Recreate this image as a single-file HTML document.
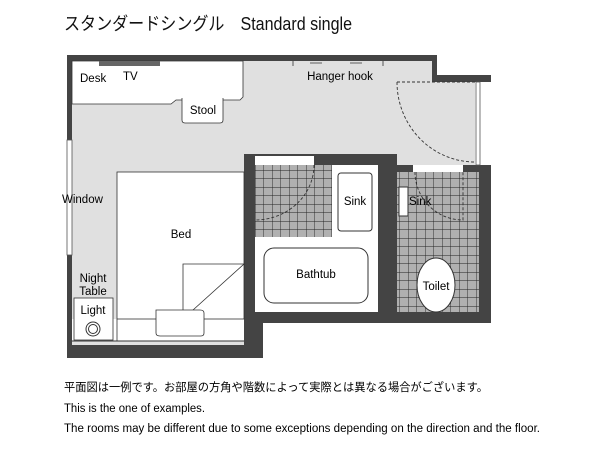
<!DOCTYPE html>
<html><head><meta charset="utf-8"><style>body{margin:0;background:#fff}svg{display:block}</style></head><body>
<svg width="600" height="450" viewBox="0 0 600 450" xmlns="http://www.w3.org/2000/svg" font-family="Liberation Sans, Noto Sans CJK JP, sans-serif">
<rect width="600" height="450" fill="#fff"/>
<text x="64" y="30" font-size="18" textLength="288" lengthAdjust="spacingAndGlyphs" fill="#111">スタンダードシングル　Standard single</text>
<polygon points="72,61 432,61 432,82 475,82 475,165 244,165 244,345 72,345" fill="#e0e0e0"/>
<path d="M67,55 H437 V75 H491 V82 H432 V61 H72 V345 H244 V154 H397 V165 H491 V323 H263 V358 H67 Z" fill="#444"/>
<rect x="476" y="82" width="4" height="83" fill="#fff" stroke="#555" stroke-width="0.8"/>
<rect x="67" y="140" width="5" height="115" fill="#fff" stroke="#555" stroke-width="0.8"/>
<rect x="255" y="165" width="123" height="147" fill="#fff"/>
<rect x="378" y="154" width="19" height="169" fill="#444"/>
<rect x="255" y="156" width="59" height="9" fill="#fff"/>
<rect x="413" y="165" width="50" height="7" fill="#fff"/>
<defs><pattern id="t" width="8.5" height="8.5" patternUnits="userSpaceOnUse"><rect width="8.5" height="8.5" fill="#b0b0b0"/><path d="M0,0 H8.5 M0,0 V8.5" stroke="#222" stroke-width="0.9"/></pattern></defs>
<rect x="255" y="165" width="77" height="72" fill="url(#t)"/>
<rect x="338" y="173" width="34" height="58" rx="3" fill="#fff" stroke="#333"/>
<text x="355" y="205" font-size="11.5" text-anchor="middle">Sink</text>
<rect x="264" y="248" width="104" height="55" rx="10" fill="#fff" stroke="#333"/>
<text x="316" y="278" font-size="11.5" text-anchor="middle">Bathtub</text>
<rect x="397" y="172" width="82" height="140" fill="url(#t)"/>
<rect x="399" y="187" width="9" height="29" fill="#fff" stroke="#333"/>
<ellipse cx="436" cy="285" rx="19" ry="27" fill="#fff" stroke="#333"/>
<text x="436" y="290" font-size="11.5" text-anchor="middle">Toilet</text>
<text x="409" y="205" font-size="11.5">Sink</text>
<g fill="none" stroke="#333" stroke-width="0.9" stroke-dasharray="3,2">
<path d="M397,82 H475 M397,82 A78,80 0 0 0 475,162"/>
<path d="M314,165 A59,55 0 0 1 255,220"/>
<path d="M415,172 A48,48 0 0 0 463,220 V172"/>
</g>
<path d="M72,61 H243 V97 L240,100 H176 L171,104 H72 Z" fill="#fff" stroke="#333" stroke-width="0.8"/>
<rect x="99" y="61" width="61" height="5" fill="#666"/>
<text x="80" y="82" font-size="11.5">Desk</text>
<text x="123" y="80" font-size="11.5">TV</text>
<path d="M182,98 V120 Q182,123 185,123 H220 Q223,123 223,120 V98" fill="#fff" stroke="#333" stroke-width="0.8"/>
<text x="203" y="114" font-size="11.5" text-anchor="middle">Stool</text>
<g stroke="#333" stroke-width="0.8"><path d="M293,61 V66 M310,63 H322 M350,63 H362 M383,61 V66"/></g>
<text x="340" y="80" font-size="11.5" text-anchor="middle">Hanger hook</text>
<text x="62" y="203" font-size="11.5">Window</text>
<rect x="72" y="319" width="172" height="22" fill="#fff"/>
<line x1="72" y1="341" x2="244" y2="341" stroke="#333"/>
<rect x="117" y="172" width="127" height="147" fill="#fff" stroke="#333" stroke-width="0.8"/>
<polygon points="183,264 244,264 183,319" fill="#fff" stroke="#333" stroke-width="0.8"/>
<path d="M156,310 V333 Q156,336 160,336 H201 Q204,336 204,333 V313 Q204,310 200,310 Z" fill="#fff" stroke="#333" stroke-width="0.8"/>
<line x1="117" y1="319" x2="117" y2="341" stroke="#333" stroke-width="0.8"/>
<text x="181" y="238" font-size="11.5" text-anchor="middle">Bed</text>
<text x="93" y="282" font-size="11.5" text-anchor="middle">Night</text>
<text x="93" y="295" font-size="11.5" text-anchor="middle">Table</text>
<rect x="74" y="298" width="39" height="42" fill="#fff" stroke="#333" stroke-width="0.8"/>
<text x="93" y="314" font-size="11.5" text-anchor="middle">Light</text>
<circle cx="93" cy="329" r="7" fill="none" stroke="#333"/><circle cx="93" cy="329" r="4.5" fill="none" stroke="#333"/>
<text x="64" y="391" font-size="11.5" textLength="424" lengthAdjust="spacingAndGlyphs">平面図は一例です。お部屋の方角や階数によって実際とは異なる場合がございます。</text>
<text x="64" y="412" font-size="11.5" textLength="141" lengthAdjust="spacingAndGlyphs">This is the one of examples.</text>
<text x="64" y="432" font-size="11.5" textLength="476" lengthAdjust="spacingAndGlyphs">The rooms may be different due to some exceptions depending on the direction and the floor.</text>
</svg>
</body></html>
